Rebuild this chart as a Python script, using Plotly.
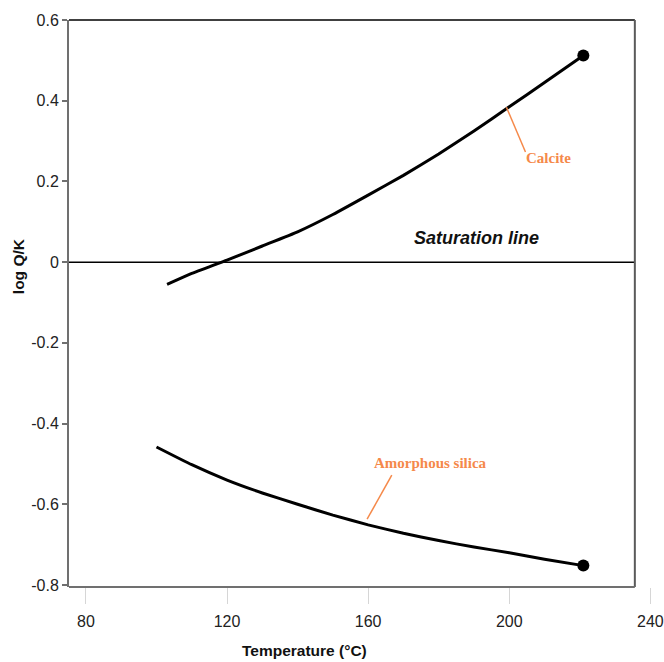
import plotly.graph_objects as go

# Saturation indices versus temperature
calcite_T = [103, 110, 120, 130, 140, 150, 160, 170, 180, 190, 200, 210, 221]
calcite_logQK = [-0.055, -0.028, 0.005, 0.040, 0.075, 0.118, 0.166, 0.215, 0.268, 0.325, 0.385, 0.445, 0.512]

silica_T = [100, 110, 120, 130, 140, 150, 160, 170, 180, 190, 200, 210, 221]
silica_logQK = [-0.458, -0.502, -0.540, -0.572, -0.600, -0.627, -0.651, -0.672, -0.690, -0.706, -0.720, -0.736, -0.752]

x_ticks = [80, 120, 160, 200, 240]
y_ticks = [0.6, 0.4, 0.2, 0, -0.2, -0.4, -0.6, -0.8]
y_ticklabels = ["0.6", "0.4", "0.2", "0", "-0.2", "-0.4", "-0.6", "-0.8"]

X_MIN, X_BOX, X_MAX = 75.2, 235.6, 243.3
Y_MIN, Y_MAX = -0.805, 0.6

ORANGE = "#F5894A"
SANS = "Liberation Sans, Arial, sans-serif"
SERIF = "Liberation Serif, Times New Roman, serif"

fig = go.Figure()

for xs, ys in [(calcite_T, calcite_logQK), (silica_T, silica_logQK)]:
    fig.add_trace(go.Scatter(x=xs, y=ys, mode="lines",
                             line=dict(color="black", width=3, shape="spline", smoothing=0.4),
                             showlegend=False, hoverinfo="x+y"))
    fig.add_trace(go.Scatter(x=[xs[-1]], y=[ys[-1]], mode="markers",
                             marker=dict(color="black", size=12),
                             showlegend=False, hoverinfo="x+y"))

shapes = [
    # saturation line
    dict(type="line", xref="x", yref="y", x0=X_MIN, x1=X_BOX, y0=0, y1=0,
         line=dict(color="black", width=1.5)),
    # frame
    dict(type="line", xref="x", yref="y domain", x0=X_MIN, x1=X_BOX, y0=1, y1=1,
         line=dict(color="black", width=1.5)),
    dict(type="line", xref="x", yref="y domain", x0=X_BOX, x1=X_BOX, y0=0, y1=1,
         line=dict(color="#5a5a5a", width=2)),
    dict(type="line", xref="x", yref="y domain", x0=X_MIN, x1=X_BOX, y0=0, y1=0,
         line=dict(color="#707070", width=2)),
    # leader lines for the labels
    dict(type="line", xref="x", yref="y", x0=199.2, y0=0.384, x1=204.6, y1=0.273,
         line=dict(color=ORANGE, width=1.5)),
    dict(type="line", xref="x", yref="y", x0=166.7, y0=-0.528, x1=159.7, y1=-0.637,
         line=dict(color=ORANGE, width=1.5)),
]

annotations = [
    dict(x=211.1, y=0.258, xref="x", yref="y", text="<b>Calcite</b>", showarrow=False,
         font=dict(family=SERIF, size=15, color=ORANGE)),
    dict(x=177.7, y=-0.498, xref="x", yref="y", text="<b>Amorphous silica</b>", showarrow=False,
         font=dict(family=SERIF, size=15, color=ORANGE)),
    dict(x=190.7, y=0.061, xref="x", yref="y", text="<b><i>Saturation line</i></b>", showarrow=False,
         font=dict(family=SANS, size=18, color="#111")),
    dict(x=305, y=650, xref="paper", yref="paper", text="<b>Temperature (°C)</b>", showarrow=False,
         xanchor="center", yanchor="middle",
         font=dict(family=SANS, size=15.5, color="#111")),
    dict(x=18, y=266, xref="paper", yref="paper", text="<b>log Q/K</b>", showarrow=False,
         xanchor="center", yanchor="middle",
         textangle=-90, font=dict(family=SANS, size=15.5, color="#111")),
]

# convert the two pixel-placed titles to paper fractions
W, H = 664, 662
L, R, T, B = 69, 0, 20, 75
for a in annotations[-2:]:
    a["x"] = (a["x"] - L) / (W - L - R)
    a["y"] = 1 - (a["y"] - T) / (H - T - B)

fig.update_layout(
    width=W, height=H,
    margin=dict(l=L, r=R, t=T, b=B),
    plot_bgcolor="white", paper_bgcolor="white",
    shapes=shapes, annotations=annotations,
    xaxis=dict(range=[X_MIN, X_MAX], tickvals=x_ticks, ticktext=[str(v) for v in x_ticks],
               showgrid=False, zeroline=False, showline=False,
               ticks="outside", ticklen=16, tickcolor="#d6d6d6", tickwidth=1,
               ticklabelstandoff=4, ticklabeloverflow="allow",
               tickfont=dict(family=SANS, size=16, color="#222")),
    yaxis=dict(range=[Y_MIN, Y_MAX], tickvals=y_ticks, ticktext=y_ticklabels,
               showgrid=False, zeroline=False, showline=True, linecolor="#707070", linewidth=2,
               ticks="outside", ticklen=5, tickcolor="#707070", tickwidth=1.5,
               tickfont=dict(family=SANS, size=16, color="#222")),
)

fig.write_html("out.html")
